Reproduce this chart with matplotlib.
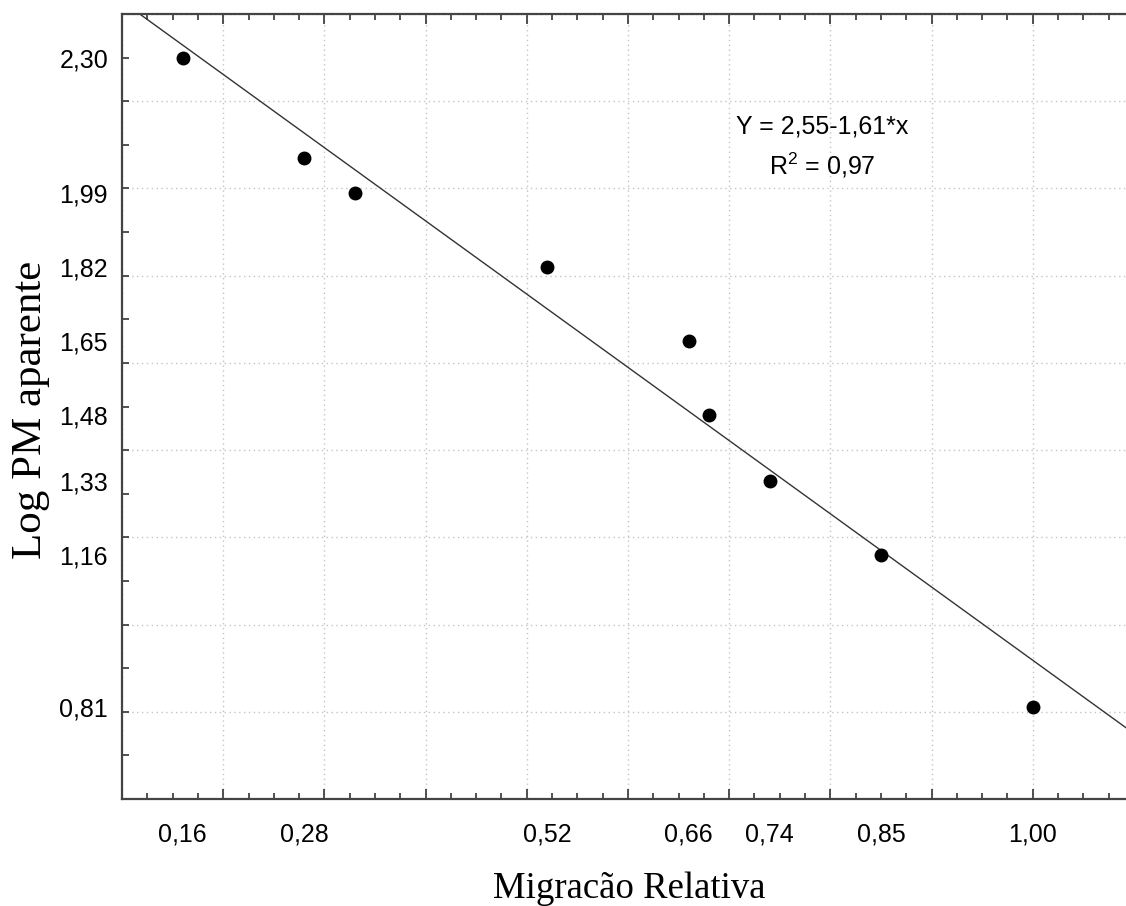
import numpy as np
import matplotlib.pyplot as plt

plt.rcParams['font.family'] = ['Liberation Sans', 'DejaVu Sans']
plt.rcParams['mathtext.fontset'] = 'custom'
plt.rcParams['mathtext.rm'] = 'Liberation Sans'
plt.rcParams['mathtext.it'] = 'Liberation Sans'

# Migracao relativa vs log PM aparente
mig = [0.16, 0.28, 0.33, 0.52, 0.66, 0.68, 0.74, 0.85, 1.00]
log_pm = [2.30, 2.07, 1.99, 1.82, 1.65, 1.48, 1.33, 1.16, 0.81]

x_tick_vals = [0.16, 0.28, 0.52, 0.66, 0.74, 0.85, 1.00]
x_tick_labels = ['0,16', '0,28', '0,52', '0,66', '0,74', '0,85', '1,00']
y_tick_vals = [2.30, 1.99, 1.82, 1.65, 1.48, 1.33, 1.16, 0.81]
y_tick_labels = ['2,30', '1,99', '1,82', '1,65', '1,48', '1,33', '1,16', '0,81']

eq_text = 'Y = 2,55-1,61*x\nR$^2$ = 0,97'


def main():
    fig = plt.figure(figsize=(11.26, 9.06), dpi=100)
    ax = fig.add_axes([122 / 1126, 107 / 906, 1012 / 1126, 785 / 906])

    slope, intercept = np.polyfit(mig, log_pm, 1)
    xl = np.array([0.1, 1.1])
    ax.plot(xl, intercept + slope * xl, color='#333333', lw=1.0, zorder=2)
    ax.plot(mig, log_pm, 'o', color='black', ms=9, zorder=3)

    ax.set_xlim(0.1, 1.1)
    ax.set_ylim(0.6, 2.4)

    # grid/tick marks
    ax.set_xticks(np.arange(0.1, 1.11, 0.1))
    ax.set_xticks(np.arange(0.1, 1.11, 0.025), minor=True)
    ax.set_yticks(np.arange(0.6, 2.41, 0.2))
    ax.set_yticks(np.arange(0.6, 2.41, 0.1), minor=True)
    ax.set_xticklabels([])
    ax.set_yticklabels([])
    ax.tick_params(which='both', direction='in', top=True, right=False,
                   color='#333333', width=1.2)
    ax.tick_params(axis='x', which='major', length=7)
    ax.tick_params(axis='x', which='minor', length=4)
    ax.tick_params(axis='y', which='both', length=5)
    ax.grid(True, which='major', linestyle=(0, (1, 2.5)), color='#c4c4c4', lw=1.0)

    for s in ['left', 'bottom', 'top']:
        ax.spines[s].set_color('#444444')
        ax.spines[s].set_linewidth(1.6)
    ax.spines['right'].set_visible(False)

    # labelled values
    sx = ax.secondary_xaxis('bottom')
    sx.set_xticks(x_tick_vals, x_tick_labels)
    sx.tick_params(length=0, pad=17, labelsize=18)
    sx.spines['bottom'].set_visible(False)
    sy = ax.secondary_yaxis('left')
    sy.set_yticks(y_tick_vals, y_tick_labels)
    sy.tick_params(length=0, pad=10, labelsize=18)
    sy.spines['left'].set_visible(False)

    fig.text(493 / 1126, 1 - 898 / 906, 'Migracão Relativa', family='Liberation Serif',
             fontsize=26.5, ha='left', va='baseline')
    fig.text(31 / 1126, 1 - 410 / 906, 'Log PM aparente', family='Liberation Serif',
             fontsize=31, rotation=90, ha='center', va='center')

    ax.text(0.792, 2.095, eq_text, ha='center', va='center', fontsize=18,
            linespacing=1.5)

    fig.savefig('out.png', dpi=100)


if __name__ == '__main__':
    main()
